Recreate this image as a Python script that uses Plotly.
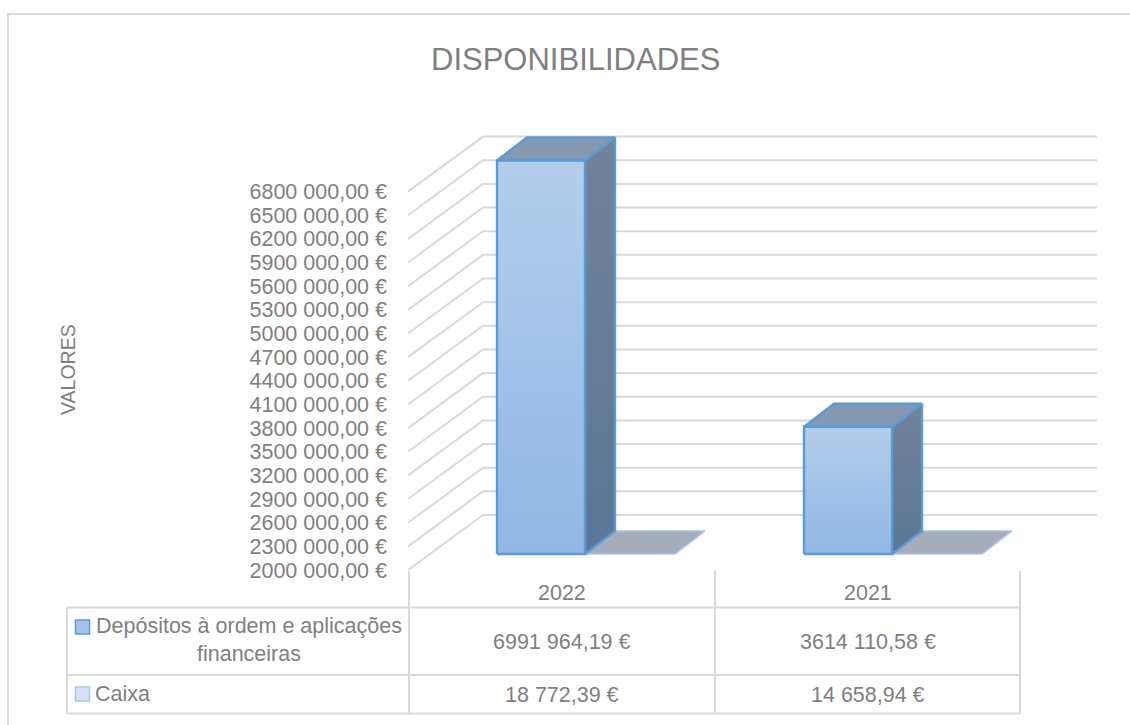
import plotly.graph_objects as go

W, H = 1130, 725
title = "DISPONIBILIDADES"
axis_title = "VALORES"
categories = ["2022", "2021"]
series_names = ["Depósitos à ordem e aplicações<br>financeiras", "Caixa"]
deposits = [6991964.19, 3614110.58]
cash = [18772.39, 14658.94]
deposits_text = ["6991 964,19 €", "3614 110,58 €"]
cash_text = ["18 772,39 €", "14 658,94 €"]
tick_values = [2000000, 2300000, 2600000, 2900000, 3200000, 3500000, 3800000, 4100000, 4400000,
               4700000, 5000000, 5300000, 5600000, 5900000, 6200000, 6500000, 6800000]
tick_labels = ["2000 000,00 €", "2300 000,00 €", "2600 000,00 €", "2900 000,00 €", "3200 000,00 €",
               "3500 000,00 €", "3800 000,00 €", "4100 000,00 €", "4400 000,00 €", "4700 000,00 €",
               "5000 000,00 €", "5300 000,00 €", "5600 000,00 €", "5900 000,00 €", "6200 000,00 €",
               "6500 000,00 €", "6800 000,00 €"]

FLOOR_Y = 570.0
STEP = 23.65
UNIT = STEP / 300000.0
WALL_X = 408.0
DX, DY = 75.0, 55.0
GRID_END = 1097.0
CAT_LEFT = [497.0, 804.0]
BAR_W = 88.0
FLAT_W = 90.0
D0, D1 = 0.29, 0.71
GREY = "#d9d9d9"
TEXT = "#7f7f7f"
FONT = "Liberation Sans"
FS = 21.5
MIN_V = tick_values[0]
BLUE = "#5b9bd5"


def yv(v, depth=0.0):
    return v + depth * DY / UNIT


def px_y(py):
    return MIN_V + (FLOOR_Y - py) / UNIT


fig = go.Figure()


def poly(xs, ys, fill=None, line=None, lw=2.4, grad=None):
    kw = dict(x=xs + xs[:1], y=ys + ys[:1], mode="lines", hoverinfo="skip", showlegend=False,
              fill="toself", line=dict(color=line or "rgba(0,0,0,0)", width=lw))
    if grad:
        kw["fillgradient"] = dict(type=grad[0], colorscale=[[0, grad[1]], [1, grad[2]]])
    else:
        kw["fillcolor"] = fill
    fig.add_trace(go.Scatter(**kw))


def seg(xs, ys, color=GREY, lw=2):
    fig.add_trace(go.Scatter(x=xs, y=ys, mode="lines", hoverinfo="skip", showlegend=False,
                             line=dict(color=color, width=lw)))


# outer chart border: left and top edges only, as in the reference crop
seg([8, 8, W], [px_y(H), px_y(14), px_y(14)], GREY, 2)

# gridlines
gx, gy = [], []
for v in tick_values:
    gx += [WALL_X, WALL_X + DX, GRID_END, None]
    gy += [yv(v), yv(v, 1), yv(v, 1), None]
seg(gx, gy)

# table
ROWS = [607.5, 675, 713.5]
COLS = [67, 409, 715, 1020]
for r in ROWS:
    seg([COLS[0], COLS[-1]], [px_y(r)] * 2)
seg([COLS[0], COLS[0]], [px_y(ROWS[0]), px_y(ROWS[2])])
for c in COLS[1:]:
    seg([c, c], [px_y(571), px_y(ROWS[2])])

SHIFT = (D1 - D0) * DX - 1.5
for i, cat in enumerate(categories):
    x0 = CAT_LEFT[i]
    x1 = x0 + BAR_W
    x0b, x1b = x0 + SHIFT, x1 + SHIFT
    v = max(deposits[i], MIN_V)
    c = max(cash[i], MIN_V)
    poly([x1, x1 + FLAT_W, x1b + FLAT_W, x1b],
         [yv(c, D0), yv(c, D0), yv(c, D1), yv(c, D1)], "#a4adb9", "#a9c6ea", 1.5)
    poly([x1, x1b, x1b, x1],
         [yv(MIN_V, D0), yv(MIN_V, D1), yv(v, D1), yv(v, D0)], line=BLUE,
         grad=("vertical", "#5a7795", "#71829a"))
    poly([x0, x1, x1b, x0b],
         [yv(v, D0), yv(v, D0), yv(v, D1), yv(v, D1)], "#8499b1", BLUE)
    poly([x0, x1, x1, x0],
         [yv(MIN_V, D0), yv(MIN_V, D0), yv(v, D0), yv(v, D0)], line=BLUE,
         grad=("vertical", "#92b7e5", "#b2ceeb"))

ann = []


def text(x, py, s, size=FS, anchor="center", angle=0):
    ann.append(dict(x=x, y=1 - py / H, xref="x", yref="paper", yanchor="middle", text=s, showarrow=False,
                    xanchor=anchor, textangle=angle, font=dict(family=FONT, size=size, color=TEXT)))


text(575, 60, title, 31)
text(68, 370, axis_title, 19.5, angle=-90)
for i, cat in enumerate(categories):
    xc = (COLS[i + 1] + COLS[i + 2]) / 2
    text(xc, 593, cat)
    text(xc, 642, deposits_text[i])
    text(xc, 695, cash_text[i])
text(249, 640, series_names[0])
text(93, 694, series_names[1], anchor="left")

fig.update_layout(
    width=W, height=H, margin=dict(l=0, r=0, t=0, b=0),
    paper_bgcolor="white", plot_bgcolor="white", showlegend=False,
    annotations=ann,
    xaxis=dict(range=[0, W], visible=False, fixedrange=True),
    yaxis=dict(range=[px_y(H), px_y(0)], anchor="free", position=387 / W, side="left",
               showgrid=False, zeroline=False, showline=False, ticks="",
               tickmode="array", tickvals=tick_values, ticktext=tick_labels,
               tickfont=dict(family=FONT, size=FS, color=TEXT), fixedrange=True),
    shapes=[
        dict(type="rect", xref="x", yref="paper", x0=75.5, x1=89.5, y0=1 - 634 / H, y1=1 - 620 / H,
             fillcolor="#a4c2e8", line=dict(color=BLUE, width=1.5)),
        dict(type="rect", xref="x", yref="paper", x0=75.5, x1=89.5, y0=1 - 701 / H, y1=1 - 687 / H,
             fillcolor="#d5e1f2", line=dict(color="#a9c6ea", width=1.5)),
    ],
)
fig.write_html("out.html", config=dict(displayModeBar=False),
               post_script="document.body.style.margin='0';document.body.style.overflow='hidden';")
